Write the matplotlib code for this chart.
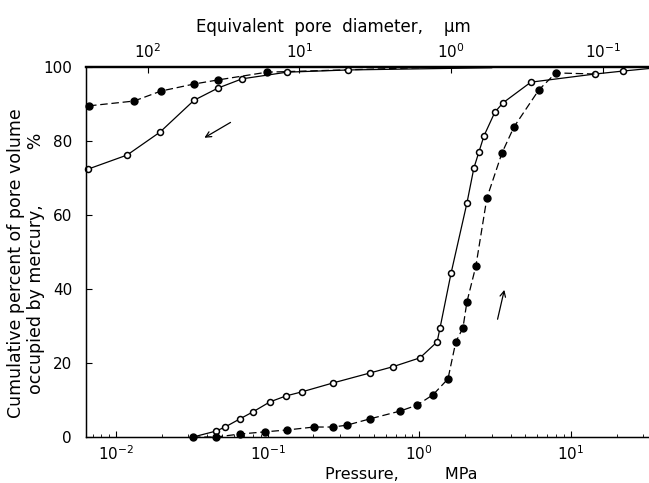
import numpy as np
import matplotlib.pyplot as plt
from matplotlib.ticker import LogLocator, NullLocator, FixedLocator

# pressure (MPa) and cumulative % for each run
# intrusion, open circles (solid line)
p_in_open = [0.0322, 0.0456, 0.0524, 0.0656, 0.080, 0.1035, 0.132, 0.168, 0.269, 0.472, 0.670,
             1.01, 1.31, 1.37, 1.62, 2.06, 2.29, 2.47, 2.67, 3.15, 3.56, 5.44, 14.4, 22.0, 33.0]
v_in_open = [0.0, 1.6, 2.7, 4.9, 6.8, 9.5, 11.1, 12.2, 14.6, 17.3, 19.0,
             21.4, 25.7, 29.5, 44.3, 63.2, 72.7, 77.0, 81.4, 87.8, 90.3, 95.9, 98.1, 98.9, 99.6]

# intrusion, filled circles (dashed line)
p_in_fill = [0.0322, 0.0456, 0.0656, 0.096, 0.134, 0.202, 0.269, 0.333, 0.472, 0.745, 0.964,
             1.23, 1.545, 1.74, 1.94, 2.06, 2.36, 2.79, 3.51, 4.21, 6.14, 7.94, 14.4]
v_in_fill = [0.0, 0.0, 0.8, 1.4, 1.9, 2.7, 2.7, 3.2, 4.9, 7.0, 8.6,
             11.4, 15.7, 25.7, 29.5, 36.5, 46.2, 64.6, 76.8, 83.8, 93.8, 98.4, 98.1]

# extrusion (upper left)
p_ex_fill = [0.00664, 0.01315, 0.0198, 0.0327, 0.0470, 0.0989, 1.0]
v_ex_fill = [89.5, 90.8, 93.5, 95.4, 96.5, 98.6, 99.8]
p_ex_open = [0.00654, 0.01183, 0.0195, 0.0327, 0.0470, 0.0678, 0.134, 0.338, 3.0]
v_ex_open = [72.4, 76.2, 82.4, 91.0, 94.3, 96.8, 98.6, 99.2, 99.8]

K = 1.62  # pore diameter (um) * pressure (MPa)
xmin, xmax = 0.00634, 32.7

fig = plt.figure(figsize=(6.49, 4.83), dpi=100)
ax = fig.add_axes([0.1325, 0.0952, 0.8675, 0.7661])

ax.plot(p_in_open, v_in_open, color="black", lw=0.9, marker="o", ms=4.3, mfc="white",
        mec="black", mew=1.1, markevery=slice(1, len(p_in_open) - 1), clip_on=False)
ax.plot(p_in_fill, v_in_fill, color="black", lw=0.9, ls=(0, (6, 3)), marker="o", ms=5,
        mfc="black", mec="black", markevery=slice(0, len(p_in_fill) - 1), clip_on=False)
ax.plot(p_ex_fill, v_ex_fill, color="black", lw=0.9, ls=(0, (6, 3)), marker="o", ms=5,
        mfc="black", mec="black", markevery=slice(0, len(p_ex_fill) - 1), clip_on=False)
ax.plot(p_ex_open, v_ex_open, color="black", lw=0.9, marker="o", ms=4.3, mfc="white",
        mec="black", mew=1.1, markevery=slice(0, len(p_ex_open) - 1), clip_on=False)

# arrows
ax.annotate("", xy=(0.0369, 80.5), xytext=(0.059, 85.4),
            arrowprops=dict(arrowstyle="->", color="black", lw=0.9))
ax.annotate("", xy=(3.67, 40.5), xytext=(3.25, 31.1),
            arrowprops=dict(arrowstyle="->", color="black", lw=0.9))

ax.set_xscale("log")
ax.set_xlim(xmin, xmax)
ax.set_ylim(0, 100)
ax.set_yticks([0, 20, 40, 60, 80, 100])
ax.xaxis.set_major_locator(FixedLocator([0.01, 0.1, 1, 10]))
ax.xaxis.set_minor_locator(LogLocator(base=10, subs=np.arange(2, 10)))
ax.tick_params(axis="both", which="major", direction="in", length=4, labelsize=11, pad=5)
ax.tick_params(axis="x", which="minor", direction="in", length=2.5)
ax.tick_params(axis="y", pad=10)
ax.spines["right"].set_visible(False)
ax.spines["top"].set_linewidth(1.6)
for s in ["left", "bottom"]:
    ax.spines[s].set_linewidth(1.0)

ax.set_xlabel("Pressure,         MPa", fontsize=11.5)
ax.xaxis.set_label_coords(0.56, -0.082)
ax.set_ylabel("Cumulative percent of pore volume\noccupied by mercury,          %", fontsize=12.5,
              linespacing=1.15)
ax.yaxis.set_label_coords(-0.072, 0.47)

# top axis: equivalent pore diameter
top = ax.twiny()
top.set_xscale("log")
top.set_xlim(K / xmin, K / xmax)
top.xaxis.set_major_locator(FixedLocator([100, 10, 1, 0.1]))
top.xaxis.set_minor_locator(NullLocator())
top.tick_params(axis="x", which="major", direction="in", length=4, labelsize=11, pad=4)
top.spines["right"].set_visible(False)
top.spines["top"].set_linewidth(1.6)
top.set_xlabel("Equivalent  pore  diameter,    \u00b5m", fontsize=12)
top.xaxis.set_label_coords(0.44, 1.095)

fig.savefig("out.png", dpi=100)
